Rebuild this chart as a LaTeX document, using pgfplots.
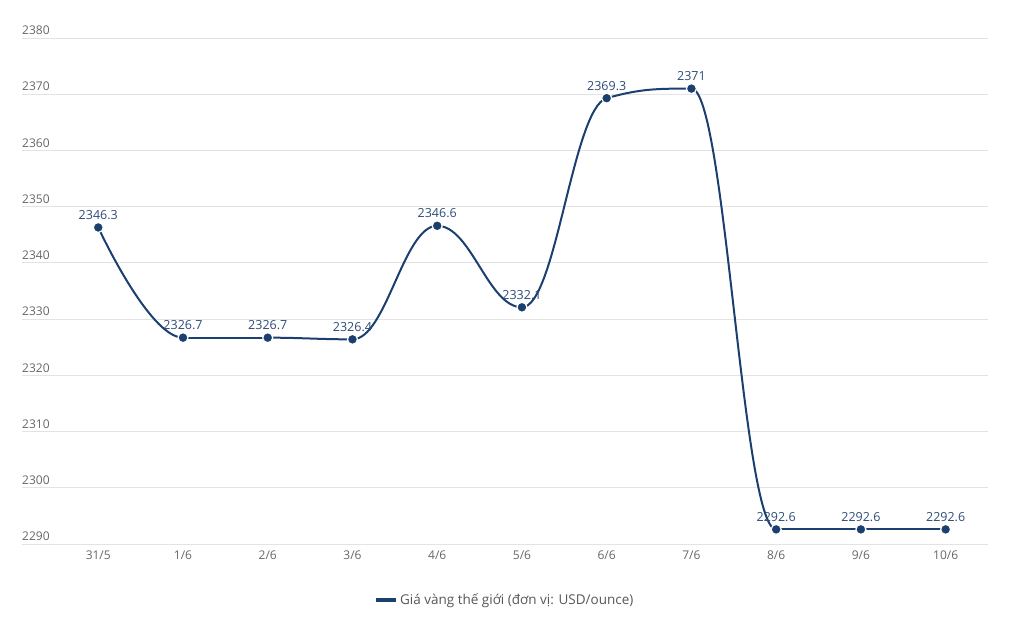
\documentclass[border=0pt]{standalone}
\usepackage{pgfplots}
\usepackage{pgfplotstable}
\pgfplotsset{compat=1.18}
\usepackage{fontspec}
\setmainfont{Open Sans}
\definecolor{navy}{HTML}{1B3F6E}
\definecolor{lbl}{HTML}{2E4C78}
\definecolor{tick}{HTML}{666666}
\definecolor{gridc}{HTML}{E3E3E3}
\pgfplotstableread{
x y
0 2346.3
1 2326.7
2 2326.7
3 2326.4
4 2346.6
5 2332.1
6 2369.3
7 2371
8 2292.6
9 2292.6
10 2292.6
}\datatable
\begin{document}
\begin{tikzpicture}
% values of the series, read from the table
\foreach \i in {0,...,10}{%
  \pgfplotstablegetelem{\i}{y}\of\datatable
  \expandafter\xdef\csname yv\i\endcsname{\pgfplotsretval}%
}
% spline control points (horizontal tangents at extrema, no overshoot)
\expandafter\xdef\csname rc0\endcsname{\csname yv0\endcsname}
\expandafter\xdef\csname rcx0\endcsname{0}
\expandafter\xdef\csname lc10\endcsname{\csname yv10\endcsname}
\expandafter\xdef\csname lcx10\endcsname{10}
\foreach \i in {1,...,9}{%
  \pgfmathtruncatemacro\ip{\i+1}\pgfmathtruncatemacro\im{\i-1}%
  \edef\a{\csname yv\im\endcsname}\edef\b{\csname yv\i\endcsname}\edef\c{\csname yv\ip\endcsname}%
  \pgfmathsetmacro\L{\b-0.2*(\c-\a)}%
  \pgfmathsetmacro\mxl{max(\a,\b)}\pgfmathsetmacro\mnl{min(\a,\b)}%
  \pgfmathsetmacro\mxr{max(\b,\c)}\pgfmathsetmacro\mnr{min(\b,\c)}%
  \pgfmathsetmacro\Lc{max(min(\L,\mxl),\mnl)}%
  \pgfmathsetmacro\R{2*\b-\Lc}%
  \pgfmathsetmacro\Rc{max(min(\R,\mxr),\mnr)}%
  \pgfmathsetmacro\Lf{2*\b-\Rc}%
  \expandafter\xdef\csname lc\i\endcsname{\Lf}%
  \expandafter\xdef\csname rc\i\endcsname{\Rc}%
  \pgfmathsetmacro\lx{\i-0.4}\pgfmathsetmacro\rx{\i+0.4}%
  \expandafter\xdef\csname lcx\i\endcsname{\lx}%
  \expandafter\xdef\csname rcx\i\endcsname{\rx}%
}
\begin{axis}[
  name=ax,
  scale only axis,
  width=966bp, height=506bp,
  xmin=-0.9, xmax=10.5,
  ymin=2290, ymax=2380,
  ytick={2290,2300,...,2380},
  xtick={0,...,10},
  xticklabels={31/5,1/6,2/6,3/6,4/6,5/6,6/6,7/6,8/6,9/6,10/6},
  axis line style={draw=none},
  major tick length=0pt,
  ymajorgrids,
  grid style={gridc, line width=1bp},
  tick label style={font=\fontsize{12bp}{14bp}\selectfont, text=tick},
  yticklabel style={anchor=south west, inner sep=0pt, yshift=3bp},
  xticklabel style={yshift=-3bp},
  /pgf/number format/assume math mode=true,
  /pgf/number format/1000 sep={},
  clip=false,
  legend style={at={(0.5,-0.09)}, anchor=north, draw=none, fill=none,
    font=\fontsize{13.5bp}{16bp}\selectfont, text=tick!85!black,
    legend cell align=left},
  legend image code/.code={\draw[navy, line width=3.5bp] (0bp,0bp) -- (20bp,0bp);},
]
\pgfplotsextra{%
  \foreach \i in {0,...,9}{%
    \pgfmathtruncatemacro\ip{\i+1}%
    \edef\ya{\csname yv\i\endcsname}\edef\yb{\csname yv\ip\endcsname}%
    \edef\ra{\csname rc\i\endcsname}\edef\rxa{\csname rcx\i\endcsname}%
    \edef\lb{\csname lc\ip\endcsname}\edef\lxb{\csname lcx\ip\endcsname}%
    \draw[navy, line width=2bp, line cap=round]
      (axis cs:\i,\ya) .. controls (axis cs:\rxa,\ra) and (axis cs:\lxb,\lb) .. (axis cs:\ip,\yb);
  }%
}
\addplot[only marks, navy, mark=*, mark size=5bp,
  mark options={fill=navy, draw=white, line width=1.2bp},
  nodes near coords,
  point meta=explicit symbolic,
  every node near coord/.style={font=\fontsize{12.5bp}{14bp}\selectfont, text=lbl, anchor=south, yshift=4bp}]
table[x=x, y=y, meta=y] {\datatable};
\addlegendentry{Giá vàng thế giới (đơn vị: USD/ounce)}
\end{axis}
\path ([xshift=-22bp,yshift=-78bp]ax.south west) rectangle ++(1024bp,622bp);
\end{tikzpicture}
\end{document}
